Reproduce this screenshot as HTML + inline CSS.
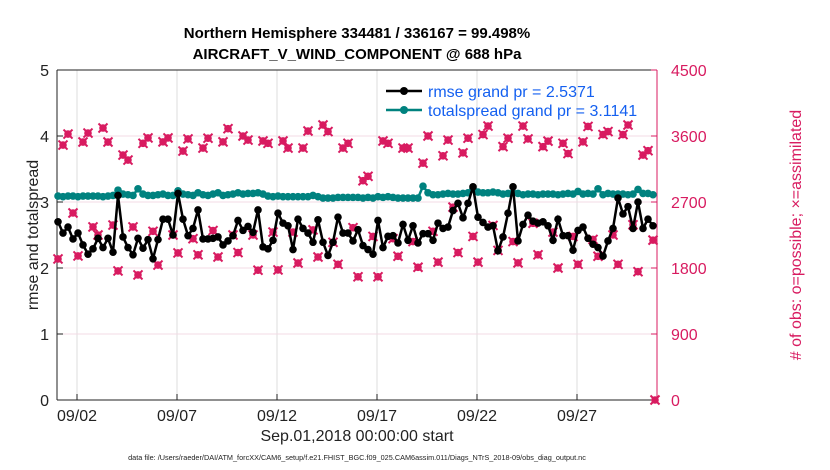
<!DOCTYPE html>
<html><head><meta charset="utf-8"><style>
body{margin:0;background:#fff;font-family:"Liberation Sans",sans-serif}
svg{display:block}
</style></head><body>
<svg id="chart" width="830" height="470" xmlns="http://www.w3.org/2000/svg"></svg>
<script>
const rmse=[2.70,2.53,2.62,2.44,2.53,2.35,2.21,2.29,2.45,2.31,2.45,2.24,3.10,2.47,2.31,2.20,2.45,2.30,2.43,2.14,2.43,2.74,2.74,2.50,3.13,2.74,2.49,2.60,2.88,2.44,2.44,2.45,2.47,2.35,2.41,2.49,2.72,2.57,2.63,2.54,2.88,
2.32,2.29,2.42,2.83,2.68,2.64,2.28,2.74,2.60,2.53,2.39,2.73,2.39,2.19,2.39,2.77,2.53,2.53,2.41,2.58,2.34,2.28,2.21,2.72,2.31,2.48,2.49,2.38,2.66,2.42,2.64,2.38,2.52,2.52,2.42,2.68,2.60,2.62,2.87,2.98,
2.76,2.98,3.23,2.77,2.69,2.62,2.64,2.26,2.47,2.83,3.23,2.41,2.66,2.80,2.71,2.68,2.70,2.64,2.42,2.74,2.49,2.49,2.27,2.57,2.62,2.45,2.36,2.31,2.18,2.41,2.60,3.06,2.82,2.93,2.60,3.00,2.60,2.74,2.64];
const spread=[3.09,3.08,3.09,3.09,3.08,3.09,3.09,3.09,3.09,3.08,3.09,3.10,3.18,3.12,3.11,3.10,3.20,3.12,3.10,3.10,3.11,3.12,3.10,3.10,3.17,3.12,3.11,3.10,3.14,3.11,3.10,3.12,3.14,3.10,3.11,3.12,3.14,3.12,3.13,3.13,3.14,
3.12,3.09,3.08,3.09,3.08,3.08,3.08,3.08,3.08,3.08,3.10,3.08,3.06,3.06,3.06,3.07,3.07,3.07,3.07,3.07,3.06,3.07,3.06,3.08,3.07,3.08,3.07,3.06,3.06,3.06,3.06,3.06,3.24,3.14,3.11,3.11,3.12,3.13,3.12,3.12,
3.13,3.14,3.20,3.15,3.14,3.14,3.15,3.14,3.12,3.13,3.14,3.13,3.11,3.12,3.12,3.11,3.12,3.12,3.12,3.11,3.12,3.13,3.12,3.16,3.12,3.13,3.12,3.20,3.11,3.13,3.12,3.12,3.12,3.11,3.12,3.19,3.13,3.13,3.11];
const obs=[1923,3477,3627,2550,1964,3518,3640,2360,2250,3709,3518,2386,1760,3340,3272,2360,1705,3500,3573,2300,1840,3520,3573,2250,2005,3395,3560,2200,1980,3436,3570,2310,1950,3520,3700,2250,2010,3600,3545,2250,1770,
3532,3500,2290,1773,3532,3436,2290,1868,3436,3668,2320,1950,3750,3660,2150,1850,3436,3500,2350,1680,2990,3050,2230,1680,3532,3500,2200,1960,3436,3436,2160,1810,3230,3600,2300,1880,3330,3545,2630,2010,
3370,3570,2230,1880,3620,3736,2380,2040,3455,3570,2160,1870,3736,3560,2410,1980,3455,3530,2290,1800,3500,3360,2230,1850,3520,3730,2190,1960,3620,3660,2250,1850,3620,3750,2390,1750,3340,3400,2180,0];
const leftTicks=[0,1,2,3,4,5];
const rightTicks=[0,900,1800,2700,3600,4500];
const dayTicks=[2,7,12,17,22,27];
const dayLabels=["09/02","09/07","09/12","09/17","09/22","09/27"];

const NS="http://www.w3.org/2000/svg";
const svg=document.getElementById('chart');
const L=57,R=657,T=70,B=400;
const xs=d=>L+(d-1)*20;
const xi=i=>L+1+i*5;
const yl=v=>B-(v/5)*(B-T);
const yr=v=>B-(v/4500)*(B-T);
function el(tag,attrs,parent){const e=document.createElementNS(NS,tag);for(const k in attrs)e.setAttribute(k,attrs[k]);(parent||svg).appendChild(e);return e;}
function txt(s,attrs){const e=el('text',attrs);e.textContent=s;return e;}
const pink="#d81b60",teal="#00827f";

dayTicks.forEach(d=>{const g=el('line',{x1:xs(d),x2:xs(d),y1:T,y2:B,stroke:"#dcdcdc","stroke-width":1});

});
leftTicks.slice(1,5).forEach(v=>{const g=el('line',{x1:L,x2:R,y1:yl(v),y2:yl(v),stroke:"#f3dbe4","stroke-width":1});

});

el('line',{x1:L,x2:R,y1:T,y2:T,stroke:"#222","stroke-width":1,});
el('line',{x1:L,x2:R,y1:B,y2:B,stroke:"#222","stroke-width":1,});
el('line',{x1:L,x2:L,y1:T,y2:B,stroke:"#222","stroke-width":1,});
el('line',{x1:R,x2:R,y1:T,y2:B,stroke:pink,"stroke-width":1,});

leftTicks.forEach(v=>{el('line',{x1:L,x2:L+6,y1:yl(v),y2:yl(v),stroke:"#222"});
const t=txt(String(v),{x:L-8,y:yl(v)+6,"text-anchor":"end","font-size":16,fill:"#222"});

});
rightTicks.forEach(v=>{el('line',{x1:R-6,x2:R,y1:yr(v),y2:yr(v),stroke:pink});
const t=txt(String(v),{x:R+14,y:yr(v)+6,"font-size":16,fill:pink});

});
dayTicks.forEach((d,k)=>{el('line',{x1:xs(d),x2:xs(d),y1:B-6,y2:B,stroke:"#222"});
const t=txt(dayLabels[k],{x:xs(d),y:B+21,"text-anchor":"middle","font-size":16,fill:"#222"});

});

obs.forEach((v,i)=>{const x=Math.min(xi(i),R-2),y=yr(v);
const g=el('g',{});


el('circle',{cx:x,cy:y,r:3.8,fill:pink},g);
el('path',{d:`M${x-4.5},${y-4.5}L${x+4.5},${y+4.5}M${x-4.5},${y+4.5}L${x+4.5},${y-4.5}`,stroke:pink,"stroke-width":2},g);});

function series(vals,color,name){
const p=el('polyline',{points:vals.map((v,i)=>xi(i)+","+yl(v)).join(" "),fill:"none",stroke:color,"stroke-width":2.5});


vals.forEach((v,i)=>{const c=el('circle',{cx:xi(i),cy:yl(v),r:3.8,fill:color});

});}
series(spread,teal,'totalspread');
series(rmse,"#000",'rmse');

const lg=el('g',{});
el('line',{x1:386,x2:422,y1:91,y2:91,stroke:"#000","stroke-width":2.5},lg);
el('circle',{cx:404,cy:91,r:4,fill:"#000"},lg);
el('line',{x1:386,x2:422,y1:110,y2:110,stroke:teal,"stroke-width":2.5},lg);
el('circle',{cx:404,cy:110,r:4,fill:teal},lg);
const l1=txt("rmse grand pr = 2.5371",{x:428,y:97,"font-size":16,fill:"#1460f0"});
const l2=txt("totalspread grand pr = 3.1141",{x:428,y:116,"font-size":16,fill:"#1460f0"});

const t1=txt("Northern Hemisphere 334481 / 336167 = 99.498%",{x:357,y:38,"text-anchor":"middle","font-size":15,"font-weight":"bold",fill:"#000"});

const t2=txt("AIRCRAFT_V_WIND_COMPONENT @ 688 hPa",{x:357,y:59,"text-anchor":"middle","font-size":15,"font-weight":"bold",fill:"#000"});

const xl=txt("Sep.01,2018 00:00:00 start",{x:357,y:441,"text-anchor":"middle","font-size":16,fill:"#222"});

const yL=txt("rmse and totalspread",{x:0,y:0,"text-anchor":"middle","font-size":16,fill:"#222",transform:"translate(38,235) rotate(-90)"});

const yR=txt("# of obs: o=possible; \u00d7=assimilated",{x:0,y:0,"text-anchor":"middle","font-size":16,fill:pink,transform:"translate(801,235) rotate(-90)"});

const ft=txt("data file: /Users/raeder/DAI/ATM_forcXX/CAM6_setup/f.e21.FHIST_BGC.f09_025.CAM6assim.011/Diags_NTrS_2018-09/obs_diag_output.nc",{x:357,y:460,"text-anchor":"middle","font-size":7.3,fill:"#222"});

</script>
</body></html>
